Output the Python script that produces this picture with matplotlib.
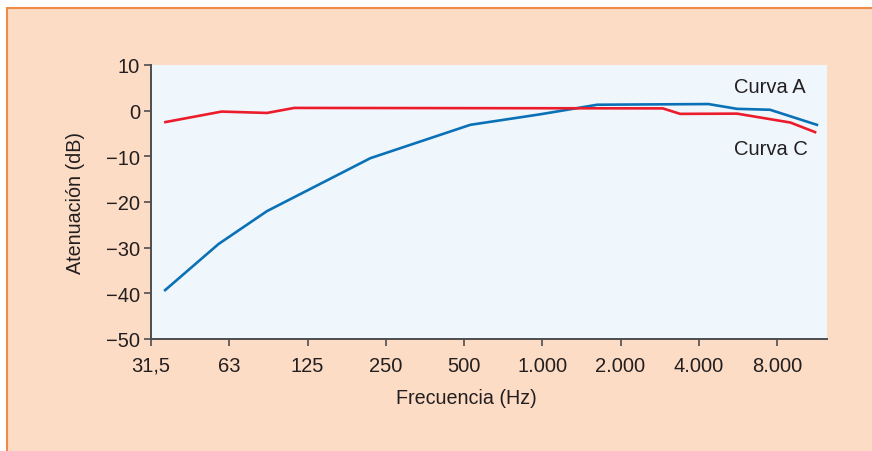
import numpy as np
import matplotlib
matplotlib.use('Agg')
import matplotlib.pyplot as plt
from matplotlib.patches import Rectangle

plt.rcParams['font.family'] = ['Liberation Sans', 'DejaVu Sans']

# Curva A (blue)
freqA = [35.7, 57.3, 88, 220, 533, 989, 1641, 4390, 5660, 7580, 11480]
dbA = [-39.3, -29.2, -22.0, -10.4, -3.1, -0.8, 1.3, 1.45, 0.4, 0.2, -3.1]

# Curva C (red)
freqC = [35.8, 58.9, 88, 112, 2930, 3420, 5660, 9080, 11300]
dbC = [-2.5, -0.2, -0.5, 0.6, 0.5, -0.7, -0.65, -2.6, -4.7]

tick_pos = [31.5 * 2**k for k in range(9)]
tick_labels = ['31,5', '63', '125', '250', '500', '1.000', '2.000', '4.000', '8.000']
ytick_vals = [10, 0, -10, -20, -30, -40, -50]

text_col = '#231f20'
spine_col = '#4d4d4f'

fig = plt.figure(figsize=(8.72, 4.52), dpi=100)
fig.patch.set_facecolor('white')
#peach panel with orange border, kept behind the axes
panel = Rectangle((7/872, -0.1), 1.2, 1.1 - 9.5/452, transform=fig.transFigure,
                  facecolor='#fddcc5', edgecolor='#ef8a47', linewidth=1.5, zorder=-10)
fig.add_artist(panel)

ax = fig.add_axes([151/872, 1-340/452, 676/872, 274/452])
ax.set_zorder(1)
ax.set_facecolor('#eff7fd')

ax.plot(freqA, dbA, color='#0b71b7', linewidth=1.9)
ax.plot(freqC, dbC, color='#ec1c2b', linewidth=1.9)

ax.set_xscale('log', base=2)
ax.set_xlim(31.5, 31.5 * 2**(676/78.25))
ax.set_ylim(-50, 10)
ax.set_xticks(tick_pos)
ax.set_xticklabels(tick_labels)
ax.minorticks_off()
ax.set_yticks(ytick_vals)

for s in ['top', 'right']:
    ax.spines[s].set_visible(False)
for s in ['left', 'bottom']:
    ax.spines[s].set_color(spine_col)
    ax.spines[s].set_linewidth(1.4)
ax.tick_params(axis='both', direction='out', length=5, width=1.2, color=spine_col,
               labelsize=14.5, labelcolor=text_col)
ax.tick_params(axis='x', pad=7)
ax.tick_params(axis='y', pad=3)

ax.text(5500, 5.2, 'Curva A', fontsize=14.5, color=text_col, va='center')
ax.text(5500, -8.2, 'Curva C', fontsize=14.5, color=text_col, va='center')

ax.set_xlabel('Frecuencia (Hz)', fontsize=14.2, color=text_col, va='center')
ax.set_ylabel('Atenuación (dB)', fontsize=14.2, color=text_col, va='center')
ax.xaxis.set_label_coords(0.466, -0.212)
ax.yaxis.set_label_coords(-0.112, 0.5)

plt.savefig('out.png', dpi=100)
